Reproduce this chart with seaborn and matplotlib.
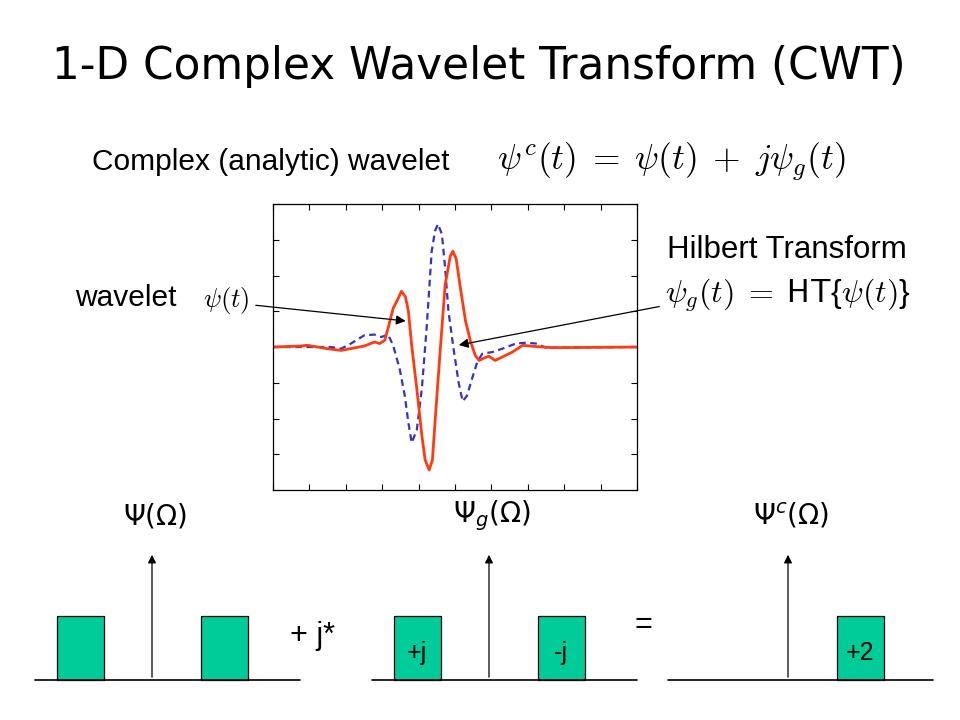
import numpy as np
import pandas as pd
import matplotlib
matplotlib.use("Agg")
import matplotlib.pyplot as plt
import seaborn as sns

# wavelet psi(t) (t in samples, 0..100)
wav_t = [0, 7.6, 9.4, 15.0, 18.7, 25.1, 27.9, 29.3, 30.7, 31.6, 33.0, 34.4, 35.3,
         36.4, 37.2, 38.1, 39.5, 40.9, 41.8, 42.9, 43.8, 44.5, 45.9, 47.3, 48.7,
         49.4, 50.3, 51.5, 52.9, 54.3, 55.6, 56.6, 57.9, 59.3, 61.0, 63.0, 65.8,
         68.6, 71.3, 76.9, 100]
wav_y = [0, 0.007, 0.012, -0.012, -0.024, 0.007, 0.035, 0.024, 0.047, 0.13, 0.27,
         0.34, 0.39, 0.35, 0.25, 0.01, -0.29, -0.62, -0.79, -0.86, -0.79, -0.53,
         -0.035, 0.435, 0.635, 0.67, 0.62, 0.41, 0.18, 0.035, -0.06, -0.094,
         -0.078, -0.064, -0.094, -0.07, -0.035, 0.012, 0.005, -0.005, 0]

# Hilbert transform psi_g(t)
ht_t = [0, 15.9, 18.7, 21.4, 25.1, 27.9, 29.8, 31.6, 33.0, 34.8, 36.2, 37.2, 38.1,
        39.5, 40.9, 42.2, 43.6, 44.5, 45.3, 46.4, 47.3, 48.2, 49.6, 51.0, 52.1,
        53.3, 54.7, 56.1, 57.5, 60.3, 63.0, 66.7, 69.5, 72.3, 75.0, 100]
ht_y = [0, 0, -0.012, 0.024, 0.082, 0.087, 0.07, 0.087, 0.012, -0.153, -0.34,
        -0.53, -0.67, -0.58, -0.29, 0.13, 0.67, 0.81, 0.86, 0.79, 0.55, 0.25,
        -0.012, -0.25, -0.38, -0.34, -0.22, -0.106, -0.047, -0.035, -0.012,
        0.024, 0.03, 0.024, -0.005, 0]

# idealised spectra (bands at negative / positive frequency)
spec_titles = [r"$\Psi(\Omega)$", r"$\Psi_{\mathit{g}}(\Omega)$",
               r"$\Psi^{\mathit{c}}(\Omega)$"]
spec_bands = [[-1, 1], [-1, 1], [1]]
spec_labels = [["", ""], ["+j", "-j"], ["+2"]]

W, H = 960, 720
GREEN = "#00CC99"


def px(x, y):
    return x / W, 1 - y / H


sns.set_theme(style="white")
plt.rcParams["font.family"] = ["Liberation Sans", "DejaVu Sans"]
plt.rcParams["mathtext.fontset"] = "cm"
plt.rcParams["text.color"] = "black"

fig = plt.figure(figsize=(9.6, 7.2), dpi=100)

# main time-domain plot
ax = fig.add_axes([273 / W, 1 - 490 / H, (637 - 273) / W, (490 - 204) / H])
df_w = pd.DataFrame({"t": wav_t, "v": wav_y})
df_h = pd.DataFrame({"t": ht_t, "v": ht_y})
sns.lineplot(data=df_h, x="t", y="v", ax=ax, color="#3333CC", lw=1.6,
             linestyle=(0, (3, 2)))
sns.lineplot(data=df_w, x="t", y="v", ax=ax, color="#FF3B10", lw=2.0)
ax.set_xlim(0, 100)
ax.set_ylim(-1, 1)
ax.set_xticks(np.arange(0, 101, 10))
ax.set_yticks(np.arange(-1, 1.01, 0.25))
ax.tick_params(direction="in", length=4, width=0.8, top=True, right=True,
               bottom=True, left=True, labelbottom=False, labelleft=False,
               colors="black")
ax.set_xlabel("")
ax.set_ylabel("")
for s in ax.spines.values():
    s.set_color("black")
    s.set_linewidth(0.9)

# arrows from labels to the curves
ax.annotate("", xy=(37.2, 0.18), xycoords="data",
            xytext=px(253, 305), textcoords="figure fraction",
            arrowprops=dict(arrowstyle="-|>", color="black", lw=0.9,
                            mutation_scale=14), annotation_clip=False)
ax.annotate("", xy=(50.3, 0.01), xycoords="data",
            xytext=px(662, 306), textcoords="figure fraction",
            arrowprops=dict(arrowstyle="-|>", color="black", lw=0.9,
                            mutation_scale=14), annotation_clip=False)

# texts
fig.text(*px(479, 66), "1-D Complex Wavelet Transform (CWT)", ha="center",
         va="center", fontsize=31.5, family="DejaVu Sans")
fig.text(*px(92, 162), "Complex (analytic) wavelet", ha="left", va="center",
         fontsize=21.5)
fig.text(*px(497, 162), r"$\psi^c(t) \;=\; \psi(t) \;+\; j\psi_g(t)$",
         ha="left", va="center", fontsize=25.5)
fig.text(*px(667, 250), "Hilbert Transform", ha="left", va="center",
         fontsize=22.5)
fig.text(*px(665, 295),
         r"$\psi_g(t) \;=\; \mathsf{HT}$" + "{" + r"$\psi(t)$" + "}",
         ha="left", va="center", fontsize=23)
fig.text(*px(75, 298), "wavelet", ha="left", va="center", fontsize=21.5)
fig.text(*px(203, 300), r"$\psi(t)$", ha="left", va="center", fontsize=19)

# spectrum diagrams
spec_axes_px = [(35, 152), (372, 489), (668, 788)]
unit = 72.0
for (x0, xc), title, bands, labs in zip(spec_axes_px, spec_titles, spec_bands,
                                        spec_labels):
    left = -(xc - x0) / unit
    right = left + 265 / unit
    sax = fig.add_axes([x0 / W, 1 - 680 / H, 265 / W, 130 / H])
    sax.set_xlim(left, right)
    sax.set_ylim(0, 130 / 64)
    sax.axis("off")
    sax.axhline(0, color="black", lw=1.2, clip_on=False)
    sax.bar(bands, [1] * len(bands), width=47 / unit, color=GREEN,
            edgecolor="black", linewidth=0.9, align="center", clip_on=False)
    sax.annotate("", xy=(0, 128 / 64), xytext=(0, 0),
                 arrowprops=dict(arrowstyle="-|>", color="black", lw=0.9,
                                 mutation_scale=12))
    for b, lab in zip(bands, labs):
        if lab:
            sax.text(b, 0.42, lab, ha="center", va="center", fontsize=18)
    fig.text(*px(xc + 3, 516), title, ha="center", va="center", fontsize=20,
             math_fontfamily="dejavusans")

fig.text(*px(313, 636), "+ j*", ha="center", va="center", fontsize=22)
fig.text(*px(643, 625), "=", ha="center", va="center", fontsize=22)

fig.savefig("out.png", dpi=100)
